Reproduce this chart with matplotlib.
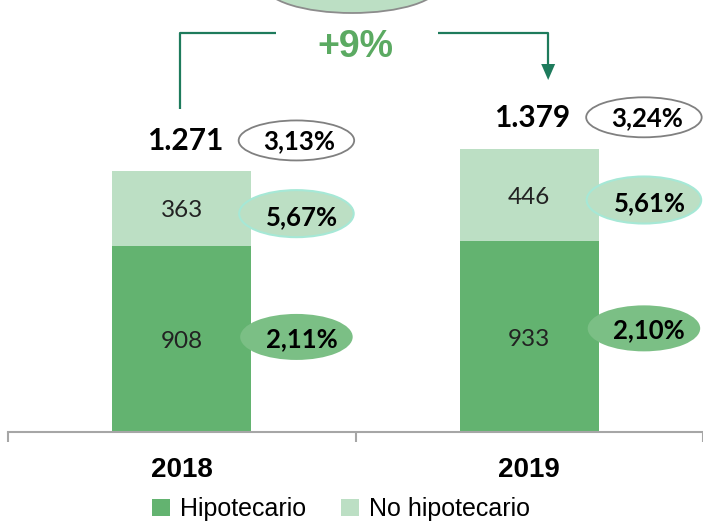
import matplotlib
matplotlib.use("Agg")
import matplotlib.pyplot as plt
from matplotlib.patches import Ellipse, Patch

years = ["2018", "2019"]
hipotecario = [908, 933]
no_hipotecario = [363, 446]
totals_label = ["1.271", "1.379"]
pct_total = ["3,13%", "3,24%"]
pct_hip = ["2,11%", "2,10%"]
pct_nohip = ["5,67%", "5,61%"]
growth_label = "+9%"

narrow = "Liberation Sans"
calib = "Lato"

DARK = "#63B370"
LIGHT = "#BCDFC4"
ARROW = "#1E7B5C"

W, H = 703, 522
fig = plt.figure(figsize=(W / 100, H / 100), dpi=100)
px_per_unit_y = 0.205
ax = fig.add_axes([8 / W, 90 / H, 695 / W, 432 / H])
ax.set_xlim(-0.5, -0.5 + 695 / 349)
ax.set_ylim(0, 432 / px_per_unit_y)

x = list(range(len(years)))
ax.bar(x, hipotecario, width=0.4, color=DARK, label="Hipotecario", zorder=2)
ax.bar(x, no_hipotecario, width=0.4, bottom=hipotecario, color=LIGHT,
       label="No hipotecario", zorder=2)

ypx = 1 / px_per_unit_y  # value units per pixel
xpx = 1 / 349            # category units per pixel

for i in x:
    tot = hipotecario[i] + no_hipotecario[i]
    ax.text(i, hipotecario[i] / 2 - 3 * ypx, str(hipotecario[i]), ha="center", va="center",
            fontsize=17.5, family=calib, color="#222222", zorder=4)
    ax.text(i, hipotecario[i] + no_hipotecario[i] / 2 - 2 * ypx, str(no_hipotecario[i]),
            ha="center", va="center", fontsize=17.5, family=calib, color="#222222", zorder=4)
    yt = tot + (30 if i == 0 else 31) * ypx
    ax.text(i + 3 * xpx, yt, totals_label[i], ha="center", va="center",
            fontsize=21.5, fontweight="bold", family=calib, color="black", zorder=4)
    ex = i + 0.33
    # total ellipse
    ax.add_patch(Ellipse((ex, yt + 1 * ypx), 116 * xpx, 40 * ypx, facecolor="white",
                         edgecolor="#808080", lw=1.3, zorder=3))
    ax.text(ex + 3 * xpx, yt, pct_total[i], ha="center", va="center",
            fontsize=18.5, fontweight="bold", family=calib, color="black", zorder=4)
    # no hip ellipse
    yn = hipotecario[i] + no_hipotecario[i] / 2 - 5 * ypx
    ax.add_patch(Ellipse((ex, yn), 115 * xpx, 47 * ypx, facecolor=LIGHT,
                         edgecolor="#A6E8D6", lw=1.5, zorder=3))
    ax.text(ex + 6 * xpx, yn - 3 * ypx, pct_nohip[i], ha="center", va="center",
            fontsize=18.5, fontweight="bold", family=calib, color="black", zorder=4)
    # hip ellipse
    yh = hipotecario[i] / 2 + (2 if i == 0 else 8) * ypx
    ax.add_patch(Ellipse((ex, yh), 113 * xpx, 46 * ypx, facecolor="#7BBF85",
                         edgecolor="none", zorder=3))
    ax.text(ex + 5 * xpx, yh - 2 * ypx, pct_hip[i], ha="center", va="center",
            fontsize=18.5, fontweight="bold", family=calib, color="black", zorder=4)

# growth bracket
tot0 = hipotecario[0] + no_hipotecario[0]
y_top = 432 / px_per_unit_y - 33 * ypx
y_start = tot0 + 62 * ypx
x_l = 0 - 1.5 * xpx
x_r = 1 + 19 * xpx
ax.plot([x_l, x_l, x_l + 96 * xpx], [y_start, y_top, y_top], color=ARROW, lw=1.6,
        solid_capstyle="butt", zorder=3)
tip_y = 432 / px_per_unit_y - 80 * ypx
ax.plot([x_r - 111 * xpx, x_r, x_r], [y_top, y_top, tip_y + 14 * ypx], color=ARROW, lw=1.6,
        solid_capstyle="butt", zorder=3)
ax.fill([x_r - 7 * xpx, x_r + 7 * xpx, x_r], [tip_y + 16 * ypx, tip_y + 16 * ypx, tip_y],
        color=ARROW, zorder=3, lw=0)
ax.text(0.5, 432 / px_per_unit_y - 47 * ypx, growth_label, ha="center", va="center",
        fontsize=27, fontweight="bold", family=narrow, color="#5BAA62", zorder=4)

# top partially visible ellipse
ax.add_patch(Ellipse((0.49, 432 / px_per_unit_y + 15 * ypx), 176 * xpx, 56 * ypx,
                     facecolor=LIGHT, edgecolor="#8C8C8C", lw=1.3, zorder=3, clip_on=False))

# axes styling
for s in ["top", "right", "left"]:
    ax.spines[s].set_visible(False)
ax.spines["bottom"].set_color("#A6A6A6")
ax.spines["bottom"].set_linewidth(1.5)
ax.set_yticks([])
ax.set_xticks([-0.5, 0.5, 1.5])
ax.set_xticklabels([])
ax.tick_params(axis="x", which="major", length=7.5, width=1.5, color="#A6A6A6", direction="out")
ax.set_xticks(x, minor=True)
ax.set_xticklabels(years, minor=True, fontsize=20, fontweight="bold", family=narrow)
ax.tick_params(axis="x", which="minor", length=0, pad=18)

handles = [Patch(facecolor=DARK, label="Hipotecario"), Patch(facecolor=LIGHT, label="No hipotecario")]
fig.legend(handles=handles, loc="center", bbox_to_anchor=(341 / W, 1 - 509 / H), ncol=2,
           frameon=False, prop={"family": narrow, "size": 18}, handlelength=0.7,
           handleheight=0.7, handletextpad=0.4, columnspacing=1.4)

fig.savefig("out.png", dpi=100)
